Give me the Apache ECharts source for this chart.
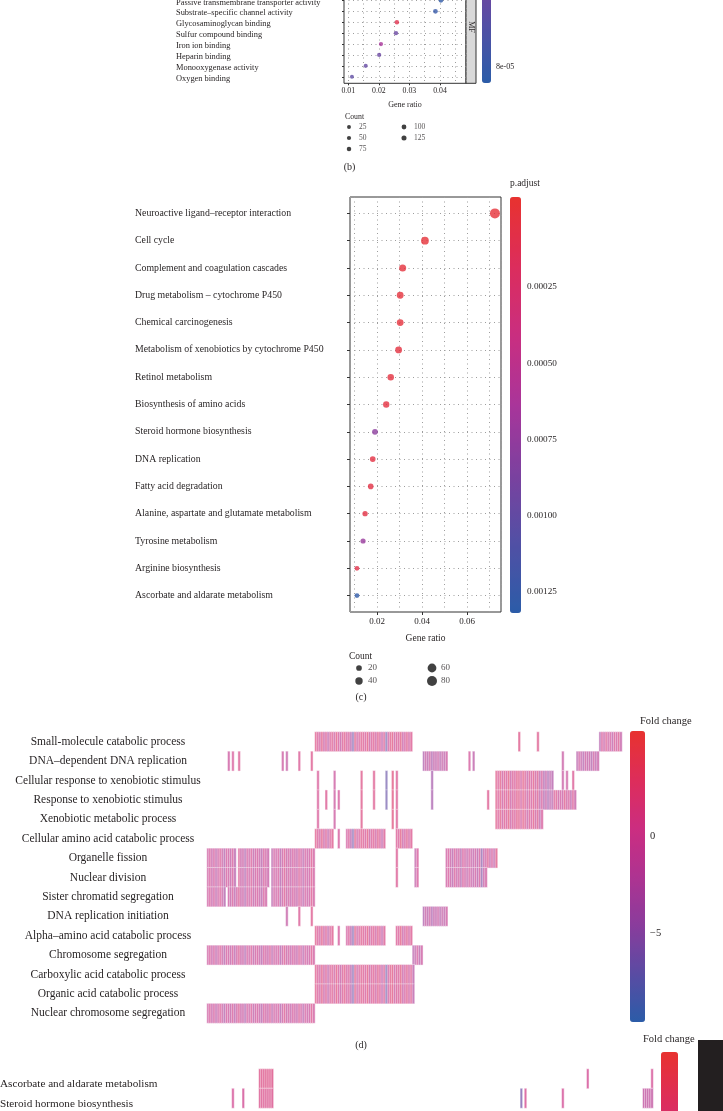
<!DOCTYPE html>
<html><head><meta charset="utf-8">
<script src="https://cdn.jsdelivr.net/npm/echarts@6/dist/echarts.min.js"></script>
<style>html,body{margin:0;padding:0;background:#fff}#c{width:723px;height:1111px}</style>
</head><body><div id="c"></div><script>
// ---------- Panel (b) (top, partly cut) ----------
const bTerms = ['Passive transmembrane transporter activity','Substrate–specific channel activity','Glycosaminoglycan binding','Sulfur compound binding','Iron ion binding','Heparin binding','Monooxygenase activity','Oxygen binding'];
const bRatio = [0.0403,0.0385,0.0259,0.0256,0.0207,0.0201,0.0157,0.0112];
const bCount = [100,96,65,64,52,50,39,28];
const bPadj  = [8.2e-5,8.0e-5,1.0e-5,6.2e-5,4.3e-5,6.2e-5,6.4e-5,6.6e-5];
const bCountLegend = [25,50,75,100,125];
const bXTicks = [0.01,0.02,0.03,0.04];
const bColorTicks = [8e-5];

// ---------- Panel (c) ----------
const cTerms = ['Neuroactive ligand–receptor interaction','Cell cycle','Complement and coagulation cascades','Drug metabolism – cytochrome P450','Chemical carcinogenesis','Metabolism of xenobiotics by cytochrome P450','Retinol metabolism','Biosynthesis of amino acids','Steroid hormone biosynthesis','DNA replication','Fatty acid degradation','Alanine, aspartate and glutamate metabolism','Tyrosine metabolism','Arginine biosynthesis','Ascorbate and aldarate metabolism'];
const cRatio = [0.0724,0.0413,0.0314,0.0303,0.0303,0.0296,0.0261,0.0241,0.0191,0.0181,0.0172,0.0147,0.0138,0.0111,0.0111];
const cCount = [80,45,35,33,33,33,29,27,21,20,19,16,15,12,12];
const cPadj  = [1e-10,1e-6,2e-5,2e-5,2e-5,3e-5,3e-5,4e-5,7.8e-4,5e-5,6e-5,6e-5,7.2e-4,8e-5,1.29e-3];
const cCountLegend = [20,40,60,80];
const cXTicks = [0.02,0.04,0.06];
const cColorTicks = [0.00025,0.0005,0.00075,0.001,0.00125];

// ---------- Panel (d) ----------
const dTerms = ['Small-molecule catabolic process','DNA–dependent DNA replication','Cellular response to xenobiotic stimulus','Response to xenobiotic stimulus','Xenobiotic metabolic process','Cellular amino acid catabolic process','Organelle fission','Nuclear division','Sister chromatid segregation','DNA replication initiation','Alpha–amino acid catabolic process','Chromosome segregation','Carboxylic acid catabolic process','Organic acid catabolic process','Nuclear chromosome segregation'];
const dGeneFC = [
 -0.8,0.4,-1.6,0.2,-2.4,-0.5,0.9,-1.2,-3.1,0.1,
 -0.6,-1.9,0.5,-2.8,-0.3,1.1,-1.4,-0.9,-3.5,0.3,
 -1.1,0.7,-2.2,-0.4,0.2,-1.7,-2.9,0.6,-0.7,-1.3,
 0.8,-2.6,-0.2,-1.0,0.4,-3.3,-0.8,1.2,-1.5,-0.1,
 -2.1,0.3,-0.9,-1.8,0.9,-0.5,-2.7,0.1,-1.2,-0.6,
 1.4,-0.3,1.8,0.6,-0.4,2.1,-1.0,1.2,-2.3,0.8,
 1.6,-0.7,2.4,0.2,-1.5,1.0,1.9,-0.2,0.7,-3.0,
 -6.2,2.2,-0.9,0.5,1.7,1.3,0.3,2.6,-1.1,1.0,
 1.5,-0.6,2.0,0.4,-2.0,1.2,-6.8,-0.3,1.8,2.3,
 -0.8,1.1,0.6,2.5,-1.4,0.2,1.6,-0.5,1.3,-2.5,
 -1.9,0.3,-2.8,-0.7,-3.4,-1.2,-2.6,-0.4,-3.9,-1.7,
 -2.2,-0.9,-3.1,-1.5,-2.4,-0.6,0.4,-1.1,-2.7,0.8,
 -1.6,-0.2,-3.3,0.5,-0.8,-2.0,0.1,-1.3,-2.2,-0.5,
 -2.9,0.6,-6.0,-1.0,-0.4,1.4,-1.8,0.2,-2.3,1.9,
 0.7,2.3,-0.6,1.5,0.3,2.8,-1.2,1.1,0.5,2.0,
 1.7,-0.3,2.4,0.9,-1.6,1.3,0.1,2.1,-0.8,1.6,
 -2.8,0.4,-3.6,-1.4,-4.2,-2.1,-3.0,0.9,1.2,-0.9,
 -0.2,-1.1,1.8,-0.7,0.5,-2.4,1.0,-1.5,-2.6,-0.4,
 -1.8,-3.2,-0.6,-2.0,-1.1,-3.7,-0.3,-2.5,-1.3,-2.9,
 0.6,-1.4,1.3,-0.8,0.2,-2.2,0.9,-0.5,1.5,-1.7
];
// gene-index ranges [first, last] belonging to each term
const dSegments = [
 [[52,98],[150,150],[159,159],[189,199]],
 [[10,10],[12,12],[15,15],[36,36],[38,38],[44,44],[50,50],[104,115],[126,126],[128,128],[171,171],[178,188]],
 [[53,53],[61,61],[74,74],[80,80],[86,86],[89,89],[91,91],[108,108],[139,166],[171,171],[173,173],[176,176]],
 [[53,53],[57,57],[61,61],[63,63],[74,74],[80,80],[86,86],[89,89],[91,91],[108,108],[135,135],[139,177]],
 [[53,53],[61,61],[74,74],[89,89],[91,91],[139,161]],
 [[52,60],[63,63],[67,85],[91,98]],
 [[0,13],[15,29],[31,51],[91,91],[100,101],[115,139]],
 [[0,13],[15,29],[31,51],[91,91],[100,101],[115,134]],
 [[0,8],[10,28],[31,51]],
 [[38,38],[44,44],[50,50],[104,115]],
 [[52,60],[63,63],[67,85],[91,98]],
 [[0,51],[99,103]],
 [[52,99]],
 [[52,99]],
 [[0,51]]
];
const dColorTicks = [0,-5];

// ---------- Panel (e) (bottom, partly cut) ----------
const eTerms = ['Ascorbate and aldarate metabolism','Steroid hormone biosynthesis'];
const eSegments = [
 [[25,31,1.6],[183,183,0.3],[214,214,0.4]],
 [[12,12,0.3],[17,17,0.1],[25,31,1.2],[151,151,-6.5],[153,153,0.5],[171,171,0.2],[210,214,-1.5]]
];

// ---------- helpers ----------
const FONT = '"Liberation Serif", "DejaVu Serif", serif';
const TXT = '#231f20';
const RAMP = ['#E8322F','#DC2D5C','#C92E80','#A9359A','#7B419F','#5150A5','#2B5CA8'];
const RAMP_FC = ['#2B5CA8','#5A4BA3','#8A3C9C','#AE3391','#CC2D80','#DD2D5A','#E8322F'];
const dotted = {type:[1,3.5], color:'#9d9d9d', width:1};
const bSize = c => Math.sqrt(13 + 0.1*c);
const cSize = c => Math.sqrt(10 + 1.125*c);
const idx = n => Array.from({length:n},(_,i)=>i);
const nGenesD = dGeneFC.length, nGenesE = 216;

const bData = bTerms.map((t,i)=>[bRatio[i], i, bCount[i], bPadj[i]]);
const cData = cTerms.map((t,i)=>[cRatio[i], i, cCount[i], cPadj[i]]);
const bLeg = bCountLegend.map((c,i)=>({value:[Math.floor(i/3), i%3, c], symbolSize:bSize(c),
  label:{show:true, position:'right', distance:10 - bSize(c)/2, formatter:String(c), fontSize:7.5, fontFamily:FONT, color:TXT}}));
const cLeg = cCountLegend.map((c,i)=>({value:[Math.floor(i/2), i%2, c], symbolSize:cSize(c),
  label:{show:true, position:'right', distance:9 - cSize(c)/2, formatter:String(c), fontSize:9, fontFamily:FONT, color:TXT}}));
const dData = [];
dSegments.forEach((segs,row)=>segs.forEach(([a,b])=>{for(let g=a; g<=b; g++) dData.push([g,row,dGeneFC[g]]);}));
const eData = [];
eSegments.forEach((segs,row)=>segs.forEach(([a,b,v])=>{for(let g=a; g<=b; g++) eData.push([g,row,v]);}));

const lab = (size, extra) => Object.assign({fontFamily:FONT, fontSize:size, color:TXT}, extra||{});
const hiddenVal = (grid, extra) => Object.assign({type:'value', gridIndex:grid, show:false, min:0, max:1}, extra||{});
const G = o => Object.assign({outerBoundsMode:'none', containLabel:false}, o);

const option = {
  animation:false,
  backgroundColor:'#fff',
  grid:[
    G({left:344, top:-28, width:122, height:111.3, show:true, borderColor:'#333', borderWidth:1}),   //0 b plot
    G({left:349, top:127, width:55, height:22}),                                                     //1 b legend
    G({left:350, top:197, width:151, height:415, show:true, borderColor:'#333', borderWidth:1}),    //2 c plot
    G({left:359, top:668, width:73, height:13}),                                                     //3 c legend
    G({left:510, top:210.75, width:11, height:402.25}),                                              //4 c colorbar axis
    G({left:207, top:732, width:415, height:291}),                                                   //5 d heatmap
    G({left:630, top:836, width:15, height:97}),                                                     //6 d colorbar axis
    G({left:207, top:1069, width:nGenesE*2.075, height:117}),                                        //7 e heatmap
    G({left:482, top:-253, width:9, height:320})                                                     //8 b colorbar axis
  ],
  xAxis:[
    {type:'value', gridIndex:0, min:0.0086, max:0.0485, splitNumber:8, axisLine:{show:false}, axisTick:{show:false}, axisLabel:{show:false}, splitLine:{show:true, lineStyle:dotted}},
    {type:'value', gridIndex:0, position:'bottom', min:0.0086, max:0.0485, axisLine:{show:false}, splitLine:{show:false},
      axisTick:{show:true, length:2, customValues:bXTicks, lineStyle:{color:'#333'}},
      axisLabel:lab(7.8,{customValues:bXTicks, margin:4, formatter:v=>v.toFixed(2)}),
      name:'Gene ratio', nameLocation:'middle', nameGap:18, nameTextStyle:lab(8)},
    hiddenVal(1),
    {type:'value', gridIndex:2, min:0.008, max:0.0751, splitNumber:7, axisLine:{show:false}, axisTick:{show:false}, axisLabel:{show:false}, splitLine:{show:true, lineStyle:dotted}},
    {type:'value', gridIndex:2, position:'bottom', min:0.008, max:0.0751, axisLine:{show:false}, splitLine:{show:false},
      axisTick:{show:true, length:3, customValues:cXTicks, lineStyle:{color:'#333'}},
      axisLabel:lab(9,{customValues:cXTicks, margin:5, formatter:v=>v.toFixed(2)}),
      name:'Gene ratio', nameLocation:'middle', nameGap:21, nameTextStyle:lab(9.5)},
    hiddenVal(3),
    hiddenVal(4),
    {type:'category', gridIndex:5, data:idx(nGenesD).map(i=>'g'+i), show:false},
    hiddenVal(6),
    {type:'category', gridIndex:7, data:idx(nGenesE).map(i=>'e'+i), show:false},
    hiddenVal(8)
  ],
  yAxis:[
    {type:'value', gridIndex:0, inverse:true, min:-2.6, max:7.6, axisLine:{show:false},
      axisTick:{show:true, length:2, customValues:idx(bTerms.length), lineStyle:{color:'#333'}},
      axisLabel:lab(8.4,{customValues:idx(bTerms.length), align:'left', margin:168,
        formatter:v=>bTerms[v]?'{t|'+bTerms[v]+'}':'',
        rich:{t:{fontFamily:FONT, fontSize:8.4, color:TXT, padding:[4,0,0,0]}}}),
      splitLine:{show:true, lineStyle:dotted}},
    hiddenVal(1,{inverse:true, max:2}),
    {type:'value', gridIndex:2, inverse:true, min:-0.6, max:14.6, axisLine:{show:false},
      axisTick:{show:true, length:3, customValues:idx(cTerms.length), lineStyle:{color:'#333'}},
      axisLabel:lab(9.8,{customValues:idx(cTerms.length), align:'left', margin:215, formatter:v=>cTerms[v]||''}),
      splitLine:{show:true, lineStyle:dotted}},
    hiddenVal(3,{inverse:true}),
    {type:'value', gridIndex:4, position:'right', inverse:true, min:0, max:0.001319, axisLine:{show:false}, splitLine:{show:false},
      axisTick:{show:true, length:3, customValues:cColorTicks, lineStyle:{color:'#333'}},
      axisLabel:lab(9.2,{customValues:cColorTicks, margin:6, formatter:v=>v.toFixed(5)})},
    {type:'category', gridIndex:5, inverse:true, data:dTerms, axisLine:{show:false}, axisTick:{show:false},
      axisLabel:lab(11.5,{align:'center', margin:99, interval:0})},
    {type:'value', gridIndex:6, position:'right', min:-5, max:0, axisLine:{show:false}, splitLine:{show:false},
      axisTick:{show:true, length:3, customValues:dColorTicks, lineStyle:{color:'#333'}},
      axisLabel:lab(10.5,{customValues:dColorTicks, margin:5, formatter:v=>v===0?'0':'−'+Math.abs(v)})},
    {type:'category', gridIndex:7, inverse:true, data:eTerms.concat(['r3','r4','r5','r6']), axisLine:{show:false}, axisTick:{show:false},
      axisLabel:lab(11.2,{align:'left', verticalAlign:'top', margin:207, interval:0, formatter:(v,i)=>eTerms[i]||''})},
    {type:'value', gridIndex:8, position:'right', inverse:true, min:0, max:8e-5, axisLine:{show:false}, splitLine:{show:false},
      axisTick:{show:true, length:3, customValues:bColorTicks, lineStyle:{color:'#333'}},
      axisLabel:lab(8,{customValues:bColorTicks, margin:5, formatter:v=>(v*1e5).toFixed(0)+'e-05'})}
  ],
  visualMap:[
    {type:'continuous', seriesIndex:0, dimension:3, min:1e-6, max:8.4e-5, inverse:true, left:482, top:-249, itemWidth:9, itemHeight:332, padding:0, text:null, calculable:false, inRange:{color:RAMP}},
    {type:'continuous', seriesIndex:2, dimension:3, min:-0.000045, max:0.001319, inverse:true, left:510, top:197, itemWidth:11, itemHeight:416, padding:0, text:null, calculable:false, inRange:{color:RAMP}},
    {type:'continuous', seriesIndex:4, dimension:2, min:-9.6, max:5.4, left:630, top:731, itemWidth:15, itemHeight:291, padding:0, text:null, calculable:false, inRange:{color:RAMP_FC}},
    {type:'continuous', seriesIndex:5, dimension:2, min:-9.6, max:5.4, left:661, top:1052, itemWidth:17, itemHeight:291, padding:0, text:null, calculable:false, inRange:{color:RAMP_FC}}
  ],
  series:[
    {type:'scatter', xAxisIndex:0, yAxisIndex:0, data:bData, symbolSize:v=>bSize(v[2])},
    {type:'scatter', xAxisIndex:2, yAxisIndex:1, data:bLeg, itemStyle:{color:'#111'}},
    {type:'scatter', xAxisIndex:3, yAxisIndex:2, data:cData, symbolSize:v=>cSize(v[2])},
    {type:'scatter', xAxisIndex:5, yAxisIndex:3, data:cLeg, itemStyle:{color:'#111'}},
    {type:'heatmap', xAxisIndex:7, yAxisIndex:5, data:dData, progressive:0, itemStyle:{borderColor:'#fff', borderWidth:0.7, opacity:0.62}},
    {type:'heatmap', xAxisIndex:9, yAxisIndex:7, data:eData, progressive:0, itemStyle:{borderColor:'#fff', borderWidth:0.7, opacity:0.68}}
  ],
  graphic:[
    {type:'rect', shape:{x:466, y:-28, width:10, height:111.3}, style:{fill:'#d9d9d9', stroke:'#333', lineWidth:1}},
    {type:'text', x:471, y:27, rotation:-Math.PI/2, style:{text:'MF', font:'8px '+FONT, fill:TXT, align:'center', verticalAlign:'middle'}},
    {type:'text', x:345, y:117, style:{text:'Count', font:'7.8px '+FONT, fill:TXT, align:'left', verticalAlign:'middle'}},
    {type:'text', x:349.5, y:167, style:{text:'(b)', font:'10px '+FONT, fill:TXT, align:'center', verticalAlign:'middle'}},
    {type:'text', x:510, y:183, style:{text:'p.adjust', font:'9.5px '+FONT, fill:TXT, align:'left', verticalAlign:'middle'}},
    {type:'text', x:349, y:656, style:{text:'Count', font:'9.5px '+FONT, fill:TXT, align:'left', verticalAlign:'middle'}},
    {type:'text', x:361, y:697, style:{text:'(c)', font:'10px '+FONT, fill:TXT, align:'center', verticalAlign:'middle'}},
    {type:'text', x:640, y:721, style:{text:'Fold change', font:'10.5px '+FONT, fill:TXT, align:'left', verticalAlign:'middle'}},
    {type:'text', x:361, y:1045, style:{text:'(d)', font:'10px '+FONT, fill:TXT, align:'center', verticalAlign:'middle'}},
    {type:'text', x:643, y:1039, style:{text:'Fold change', font:'10.5px '+FONT, fill:TXT, align:'left', verticalAlign:'middle'}},
    {type:'rect', shape:{x:698, y:1040, width:25, height:71}, style:{fill:'#231f20'}}
  ]
};
const chart = echarts.init(document.getElementById('c'), null, {renderer:'canvas'});
chart.setOption(option);
</script></body></html>
